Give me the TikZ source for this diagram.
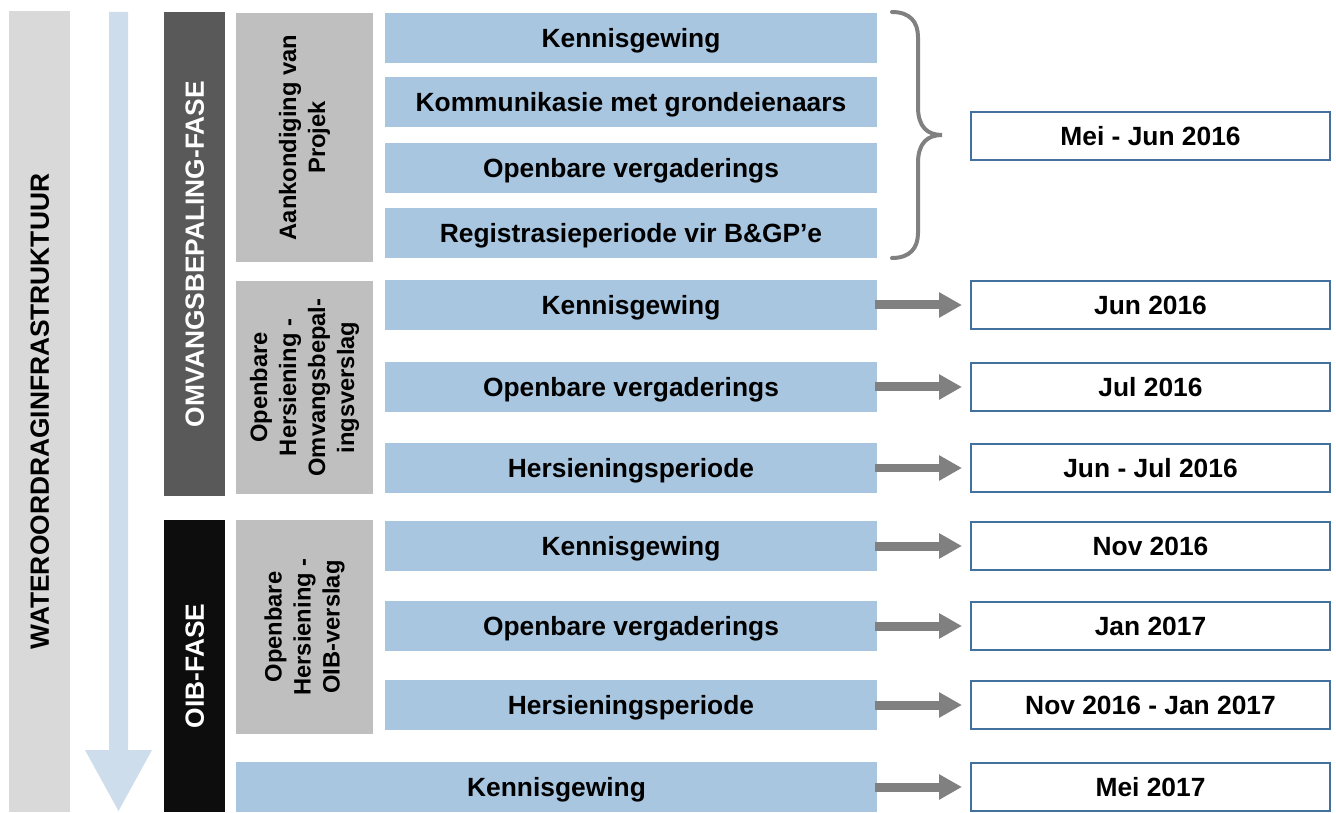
\documentclass[tikz,border=0pt]{standalone}
\usepackage{fontspec}
\setmainfont{Liberation Sans}
\usetikzlibrary{arrows.meta}

\definecolor{bargrey}{HTML}{D9D9D9}
\definecolor{flowblue}{HTML}{CDDDEB}
\definecolor{phasedark}{HTML}{595959}
\definecolor{phaseblack}{HTML}{0D0D0D}
\definecolor{groupgrey}{HTML}{BFBFBF}
\definecolor{stepblue}{HTML}{A8C6E0}
\definecolor{dateblue}{HTML}{41719C}
\definecolor{arrowgrey}{HTML}{808080}

\begin{document}
\begin{tikzpicture}[font=\bfseries\fontsize{15}{18}\selectfont,
    caps/.style={text height=10.7pt, text depth=0pt},
    stepbox/.style={caps, fill=stepblue, minimum width=9.84cm, minimum height=1cm, inner sep=0pt},
    datebox/.style={caps, draw=dateblue, line width=0.04cm, fill=white, minimum width=7.18cm, minimum height=0.96cm, inner sep=0pt},
    side/.style={rotate=90, inner sep=0pt, align=center},
    phase/.style={side, caps, text=white, minimum height=1.22cm},
    group/.style={side, fill=groupgrey, minimum height=2.74cm, font=\bfseries\fontsize{13.5}{16.5}\selectfont},
    arr/.style={draw=arrowgrey, line width=0.18cm, -{Triangle[length=0.46cm,width=0.48cm]}, shorten >=0.16cm, shorten <=-0.04cm}]
    \useasboundingbox (0,0) rectangle (26.72,16.24);

    % left bar and the flow arrow
    \node[side, caps, fill=bargrey, minimum width=16.02cm, minimum height=1.22cm] (infra) at (0.79,8.01) {WATEROORDRAGINFRASTRUKTUUR};
    \fill[flowblue] (2.18,16.00) -- (2.56,16.00) -- (2.56,1.24) -- (3.04,1.24) -- (2.37,0.02) -- (1.70,1.24) -- (2.18,1.24) -- cycle;

    % phases
    \node[phase, fill=phasedark, minimum width=9.68cm] (omv) at (3.89,11.16) {OMVANGSBEPALING-FASE};
    \node[phase, fill=phaseblack, minimum width=5.84cm] (oib) at (3.89,2.92) {OIB-FASE};

    % groups
    \node[group, minimum width=4.98cm] (g1) at (6.09,13.49) {Aankondiging van\\Projek};
    \node[group, minimum width=4.26cm] (g2) at (6.09,8.49) {Openbare\\Hersiening -\\Omvangsbepal-\\ingsverslag};
    \node[group, minimum width=4.28cm] (g3) at (6.09,3.70) {Openbare\\Hersiening -\\OIB-verslag};

    % steps
    \foreach \i/\y/\t in {1/15.48/Kennisgewing, 2/14.20/Kommunikasie met grondeienaars, 3/12.88/Openbare vergaderings,
        4/11.58/Registrasieperiode vir B\&GP’e, 5/10.14/Kennisgewing, 6/8.50/Openbare vergaderings,
        7/6.88/Hersieningsperiode, 8/5.32/Kennisgewing, 9/3.72/Openbare vergaderings, 10/2.14/Hersieningsperiode}
        \node[stepbox] (b\i) at (12.62,\y) {\t};
    \node[stepbox, minimum width=12.82cm] (b11) at (11.13,0.50) {Kennisgewing};

    % dates
    \node[datebox] (d1) at (23.01,13.52) {Mei - Jun 2016};
    \foreach \i/\y/\t in {5/10.14/Jun 2016, 6/8.50/Jul 2016, 7/6.88/Jun - Jul 2016, 8/5.32/Nov 2016,
        9/3.72/Jan 2017, 10/2.14/Nov 2016 - Jan 2017, 11/0.50/Mei 2017}
        \node[datebox] (d\i) at (23.01,\y) {\t};

    % brace over the first group
    \draw[arrowgrey, line width=0.08cm, line cap=round] (17.84,16.00) .. controls (18.20,16.00) and (18.36,15.80) .. (18.36,15.50)
        -- (18.36,14.10) .. controls (18.36,13.70) and (18.55,13.54) .. (18.84,13.54)
        .. controls (18.55,13.54) and (18.36,13.38) .. (18.36,12.98)
        -- (18.36,11.58) .. controls (18.36,11.28) and (18.20,11.08) .. (17.84,11.08);

    \foreach \i in {5,...,11} \draw[arr] (b\i) -- (d\i);
\end{tikzpicture}
\end{document}
